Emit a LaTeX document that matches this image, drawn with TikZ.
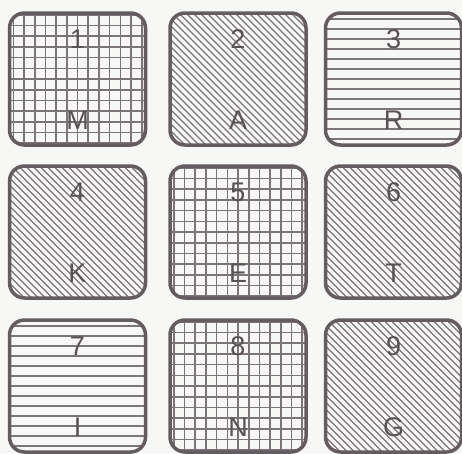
\documentclass[tikz,border=0pt]{standalone}
\usepackage{fontspec}
\setmainfont{Liberation Sans}
\definecolor{keygray}{RGB}{100,92,96}
\definecolor{inkgray}{RGB}{88,82,85}
\definecolor{paper}{RGB}{247,247,245}
\tikzset{
  key/.style={rectangle, rounded corners=15pt, draw=keygray, line width=3.5pt,
              minimum width=136pt, minimum height=132pt},
  hatchline/.style={draw=keygray!85, line width=1.6pt},
  gridfill/.style={path picture={
      \foreach \i in {-6,...,6}{
        \draw[hatchline, shift={(path picture bounding box.center)}]
          (\i*10.7,-80) -- (\i*10.7,80) (-80,\i*10.7) -- (80,\i*10.7);}}},
  diagfill/.style={path picture={
      \foreach \i in {-30,...,30}{
        \draw[hatchline, line width=1.1pt, shift={(path picture bounding box.center)}]
          (\i*7-90,-90) -- (\i*7+90,90);}}},
  horizfill/.style={path picture={
      \foreach \i in {-7,...,7}{
        \draw[hatchline, line width=1.3pt, shift={(path picture bounding box.center)}]
          (-80,\i*10) -- (80,\i*10);}}},
  keytext/.style={font=\fontsize{27}{30}\selectfont, text=inkgray, inner sep=0pt}
}
\begin{document}
\begin{tikzpicture}[x=1pt, y=-1pt]
\fill[paper] (0,0) rectangle (462,453);
\useasboundingbox (0,0) rectangle (462,453);
% keys: number / letter / centre / fill
\foreach \num/\ltr/\x/\y/\pat in {1/M/77.5/79/gridfill, 2/A/238/79/diagfill, 3/R/393.5/79/horizfill,
                                  4/K/77.5/232/diagfill, 5/E/238/232/gridfill, 6/T/393.5/232/diagfill,
                                  7/I/77.5/386/horizfill, 8/N/238/386/gridfill, 9/G/393.5/386/diagfill}{
  \node[key, \pat] (k\num) at (\x,\y) {};
  \node[keytext] (n\num) at ([yshift=-28pt]k\num.north) {\num};
  \node[keytext] (l\num) at ([yshift=27pt]k\num.south) {\ltr};
}
\end{tikzpicture}
\end{document}
